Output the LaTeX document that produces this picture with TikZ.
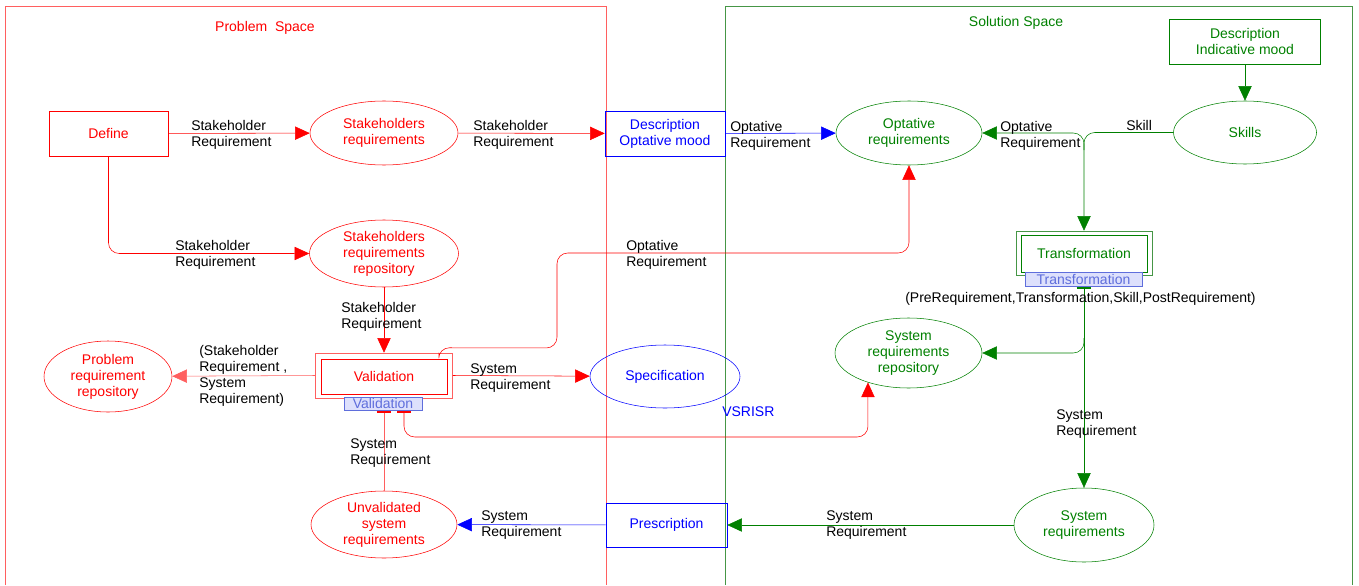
\documentclass[tikz,border=0pt]{standalone}
\usepackage{fontspec}
\setmainfont{Liberation Sans}
\usetikzlibrary{shapes.geometric,arrows.meta}
\definecolor{pframe}{RGB}{255,95,95}
\definecolor{sframe}{RGB}{70,150,70}
\definecolor{dgreen}{RGB}{0,128,0}
\definecolor{tabfill}{RGB}{221,224,252}
\definecolor{tabline}{RGB}{95,110,220}

\begin{document}
\begin{tikzpicture}[x=0.75pt,y=-0.75pt,thin,
  every node/.style={font=\fontsize{10.5}{12}\selectfont,inner sep=0pt,align=center},
  redbox/.style={draw=red,text=red,rectangle},
  bluebox/.style={draw=blue,text=blue,rectangle},
  greenbox/.style={draw=dgreen,text=dgreen,rectangle},
  redell/.style={draw=red,text=red,ellipse},
  blueell/.style={draw=blue,text=blue,ellipse},
  greenell/.style={draw=dgreen,text=dgreen,ellipse},
  tabbox/.style={draw=tabline,fill=tabfill,text=tabline,rectangle},
  lab/.style={anchor=west,align=left,text=black},
  tip/.style={-{Triangle[length=11pt,width=10pt]}},
  redline/.style={draw=red,tip},
  pinkline/.style={draw=pframe},
  blueline/.style={draw=blue,tip},
  greenline/.style={draw=dgreen,tip}]

\useasboundingbox (0,0) rectangle (1359,585);

\draw[pframe] (5,585) -- (5,6) -- (606,6) -- (606,585);
\draw[sframe] (725,585) -- (725,6) -- (1352,6) -- (1352,585);
\node[text=red] (ptitle) at (265,28) {Problem\ \ Space};
\node[text=dgreen] (stitle) at (1016,23) {Solution Space};

\node[redbox,minimum width=89.25pt,minimum height=33.75pt] (define) at (108.5,133.5) {Define};
\node[redell,minimum width=111pt,minimum height=48pt] (shreq) at (384,133) {Stakeholders\\requirements};
\node[bluebox,minimum width=90pt,minimum height=33.75pt] (descopt) at (665,133.5) {Description\\Optative mood};
\node[greenell,minimum width=109.5pt,minimum height=48pt] (optreq) at (909,133) {Optative\\requirements};
\node[greenell,minimum width=107.25pt,minimum height=47.25pt] (skills) at (1245,132.5) {Skills};
\node[greenbox,minimum width=113.25pt,minimum height=33.75pt] (descind) at (1245,41.5) {Description\\Indicative mood};
\node[redell,minimum width=111.75pt,minimum height=50.25pt] (shrepo) at (384,253.5) {Stakeholders\\requirements\\repository};

\node[draw=pframe,minimum width=102.75pt,minimum height=33.75pt] (validframe) at (384,375.5) {};
\node[redbox,minimum width=94.5pt,minimum height=26.25pt] (valid) at (384,376.5) {Validation};
\node[tabbox,minimum width=58.5pt,minimum height=9.75pt] (valtab) at (383,403.5) {Validation};
\node[redell,minimum width=96pt,minimum height=53.25pt] (probrepo) at (108,376.5) {Problem\\requirement\\repository};
\node[blueell,minimum width=112.5pt,minimum height=47.25pt] (spec) at (665,376.5) {Specification};
\node[greenell,minimum width=110.25pt,minimum height=52.5pt] (sysrepo) at (908.5,353) {System\\requirements\\repository};

\node[draw=sframe,minimum width=102pt,minimum height=33pt] (transfframe) at (1084,253) {};
\node[greenbox,minimum width=94.5pt,minimum height=27.75pt] (transf) at (1084,253.5) {Transformation};
\node[tabbox,minimum width=87.75pt,minimum height=10.5pt] (transftab) at (1083.5,279.5) {Transformation};

\node[greenell,minimum width=105pt,minimum height=55.5pt] (sysreq) at (1084,525) {System\\requirements};
\node[bluebox,minimum width=90.75pt,minimum height=33pt] (prescr) at (666.5,525) {Prescription};
\node[redell,minimum width=109.5pt,minimum height=50.25pt] (unval) at (384,524.5) {Unvalidated\\system\\requirements};

\coordinate (vin) at (384,412);
\coordinate (vout) at (404,412);
\coordinate (tout) at (1084,288);
\coordinate (fork1) at (1084,150);
\coordinate (fork2) at (1084,338);

\draw[redline] (define) -- (shreq);
\draw[redline] (shreq) -- (descopt);
\draw[blueline] (descopt) -- (optreq);
\draw[greenline] (descind) -- (skills);
\draw[greenline,rounded corners=8pt] (skills.west) -| (transfframe.north);
\draw[greenline,rounded corners=8pt] (fork1) |- (optreq.east);
\draw[redline,rounded corners=8pt] (define) |- (shrepo);
\draw[redline] (shrepo) -- (validframe);
\draw[pframe,tip] (validframe.west) -- (probrepo);
\draw[redline] (validframe.east) -- (spec);
\draw[redline,rounded corners=8pt] ([xshift=-10.5pt]validframe.north east) -- ++(0,-5) -- (557,348) -- (557,253) -| (optreq.south);
\draw[redline,rounded corners=8pt] (vout) -- ++(0,25) -| (sysrepo.216);
\draw[pinkline] (unval) -- (vin);
\draw[red,line width=2pt] ([xshift=-5.5pt]vin) -- ([xshift=5.5pt]vin);
\draw[red,line width=2pt] ([xshift=-5pt]vout) -- ([xshift=5pt]vout);
\draw[greenline] (tout) -- (sysreq);
\draw[dgreen,line width=2pt] ([xshift=-5.5pt]tout) -- ([xshift=5.5pt]tout);
\draw[greenline,rounded corners=8pt] (fork2) |- (sysrepo.east);
\draw[greenline] (sysreq) -- (prescr);
\draw[blueline] (prescr) -- (unval);

\node[lab] (l1) at (191,134.5) {Stakeholder\\Requirement};
\node[lab] (l2) at (473,134.5) {Stakeholder\\Requirement};
\node[lab] (l3) at (730,135.5) {Optative\\Requirement};
\node[lab] (l4) at (1000,135.5) {Optative\\Requirement};
\node[lab] (l5) at (1126,125) {Skill};
\node[lab] (l6) at (175,254.5) {Stakeholder\\Requirement};
\node[lab] (l7) at (626,254.5) {Optative\\Requirement};
\node[lab] (l8) at (341,316.5) {Stakeholder\\Requirement};
\node[lab] (l9) at (199,375.5) {(Stakeholder\\Requirement ,\\System\\Requirement)};
\node[lab] (l10) at (470,378.5) {System\\Requirement};
\node[lab,text=blue] (l11) at (722,412) {VSRISR};
\node[lab] (l12) at (350,453.5) {System\\Requirement};
\node[lab] (l13) at (905,299) {(PreRequirement,Transformation,Skill,PostRequirement)};
\node[lab] (l14) at (1056,424.5) {System\\Requirement};
\node[lab] (l15) at (481,525.5) {System\\Requirement};
\node[lab] (l16) at (826,525.5) {System\\Requirement};

\end{tikzpicture}
\end{document}
